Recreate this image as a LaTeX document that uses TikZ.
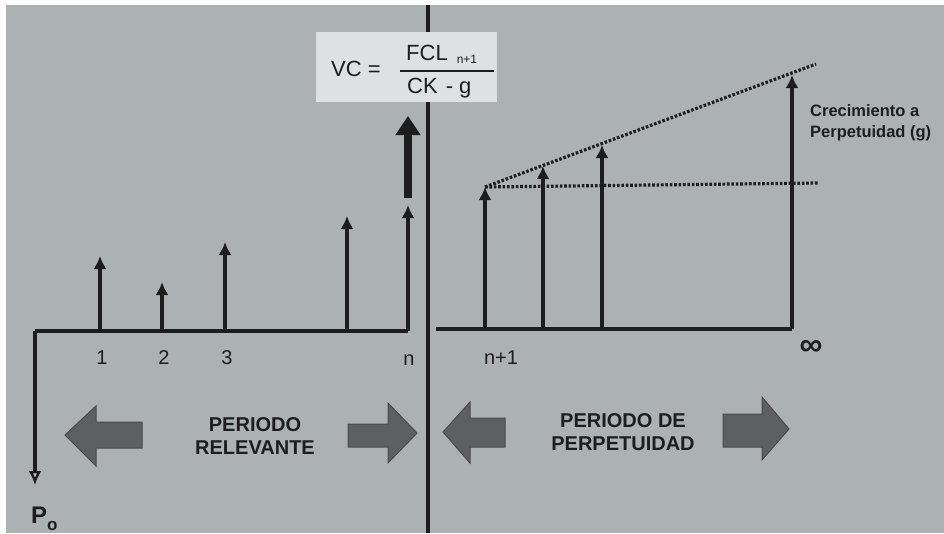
\documentclass[tikz,border=0pt]{standalone}
\usepackage{fontspec}
\setmainfont{Liberation Sans}
\usetikzlibrary{arrows.meta}
\definecolor{bg}{RGB}{172,177,177}
\definecolor{ink}{RGB}{28,30,30}
\definecolor{boxfill}{RGB}{222,225,225}
\definecolor{blockfill}{RGB}{92,96,96}
\tikzset{
  axisline/.style={draw=ink, line width=3.6pt},
  cflow/.style={draw=ink, line width=3.2pt, -{Latex[length=13pt,width=13pt]}},
  growline/.style={draw=ink, line width=3.2pt, dash pattern=on 2.6pt off 1.8pt},
  blockarrow/.style={fill=blockfill, draw=ink!80, line width=1pt},
  ticklabel/.style={text=ink, font=\fontsize{20}{20}\selectfont, inner sep=0pt},
  periodlabel/.style={text=ink, font=\bfseries\fontsize{20}{23}\selectfont, align=center, inner sep=0pt},
  formula/.style={text=ink, font=\fontsize{22}{22}\selectfont, inner sep=0pt}
}
\begin{document}
\begin{tikzpicture}[x=1pt,y=-1pt]
\useasboundingbox (0,0) rectangle (944,533);
\fill[white] (0,0) rectangle (944,533);
\fill[bg] (6,5) rectangle (944,533);

% divider
\coordinate (dtop) at (428,5);
\coordinate (dbot) at (428,533);
\draw[axisline] (dtop) -- (dbot);

% formula box
\node[fill=boxfill, minimum width=181pt, minimum height=70pt, inner sep=0pt] (vcbox) at (406,67) {};
\node[formula, anchor=base west] (vc) at (331,76) {VC =};
\node[formula, anchor=base west] (fcl) at (406,60) {FCL\hspace{9pt}\raisebox{-3pt}{\fontsize{12}{12}\selectfont n+1}};
\coordinate (barL) at (400,71);
\coordinate (barR) at (494,71);
\draw[ink, line width=2.4pt] (barL) -- (barR);
\node[formula, anchor=base west] (ck) at (407,93) {CK\hspace{8pt}- g};

% ---------- left timeline ----------
\coordinate (O) at (35,331);
\coordinate (Ptip) at (35,485);
\coordinate (b1) at (100,331); \coordinate (t1) at (100,256);
\coordinate (b2) at (162,331); \coordinate (t2) at (162,282);
\coordinate (b3) at (225,331); \coordinate (t3) at (225,242);
\coordinate (b4) at (347,331); \coordinate (t4) at (347,216);
\coordinate (b5) at (408,331); \coordinate (t5) at (408,205);
\coordinate (thickS) at (408,198);
\coordinate (thickE) at (408,116);

\draw[axisline] (b5) -- (O);
\draw[axisline, -{Latex[open, fill=bg!60!white, length=14pt, width=13pt, line width=2.4pt]}] (O) -- (Ptip);
\draw[cflow] (b1) -- (t1);
\draw[cflow] (b2) -- (t2);
\draw[cflow] (b3) -- (t3);
\draw[cflow] (b4) -- (t4);
\draw[cflow] (b5) -- (t5);
\draw[draw=ink, line width=8.5pt, -{Triangle[length=19pt, width=24pt]}] (thickS) -- (thickE);

\node[ticklabel] (l1) at (102,358) {1};
\node[ticklabel] (l2) at (164,358) {2};
\node[ticklabel] (l3) at (227,358) {3};
\node[ticklabel] (ln) at (409,360) {n};

\node[text=ink, font=\bfseries\fontsize{24}{24}\selectfont, anchor=base west, inner sep=0pt] (p0) at (31,523) {P\raisebox{-7pt}{\fontsize{17}{17}\selectfont o}};

% ---------- right timeline ----------
\coordinate (R0) at (436,329);
\coordinate (r1) at (485,329); \coordinate (s1) at (485,187);
\coordinate (r2) at (543,329); \coordinate (s2) at (543,166);
\coordinate (r3) at (602,329); \coordinate (s3) at (602,145);
\coordinate (r4) at (792,329); \coordinate (s4) at (792,75);
\coordinate (gstart) at (485,187);
\coordinate (gend) at (816,64);
\coordinate (hend) at (818,183);

\draw[axisline] (R0) -- (r4);
\draw[cflow] (r1) -- (s1);
\draw[cflow] (r2) -- (s2);
\draw[cflow] (r3) -- (s3);
\draw[cflow] (r4) -- (s4);
\draw[growline] (gstart) -- (gend);
\draw[growline] (gstart) -- (hend);

\node[ticklabel] (ln1) at (501,358) {n+1};
\node[text=ink, font=\bfseries\fontsize{32}{32}\selectfont, inner sep=0pt] (inf) at (811,348) {∞};
\node[text=ink, font=\bfseries\fontsize{16.5}{21}\selectfont, align=left, anchor=north west, inner sep=0pt] (grow) at (810,104) {Crecimiento a\\Perpetuidad (g)};

% ---------- period labels and block arrows ----------
\node[periodlabel] (relev) at (255,436) {PERIODO\\RELEVANTE};
\node[periodlabel] (perp) at (623,432) {PERIODO DE\\PERPETUIDAD};

\draw[blockarrow] (65,435) -- (96,406) -- (96,422) -- (142,422) -- (142,448) -- (96,448) -- (96,466) -- cycle;
\draw[blockarrow] (417,433) -- (388,403) -- (388,424) -- (348,424) -- (348,447) -- (388,447) -- (388,463) -- cycle;
\draw[blockarrow] (443,432) -- (470,402) -- (470,418) -- (505,418) -- (505,447) -- (470,447) -- (470,463) -- cycle;
\draw[blockarrow] (789,429) -- (762,397) -- (762,414) -- (723,414) -- (723,447) -- (762,447) -- (762,460) -- cycle;
\end{tikzpicture}
\end{document}
